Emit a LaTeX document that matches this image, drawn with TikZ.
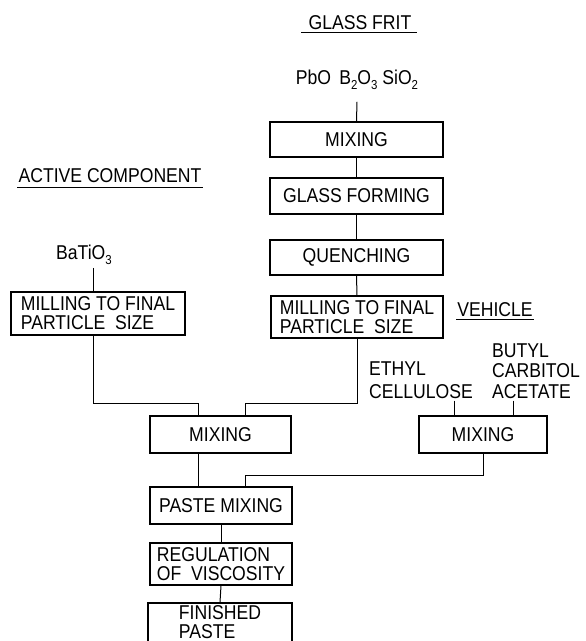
\documentclass[tikz,border=0pt]{standalone}
\usepackage{fontspec}
\setmainfont{Liberation Sans}[FakeStretch=0.88]
\usetikzlibrary{calc}
\newcommand\lbl{\fontsize{20}{19}\selectfont}
\newcommand\sbs[1]{\raisebox{-0.45ex}{\fontsize{13}{13}\selectfont #1}}
\begin{document}
\begin{tikzpicture}[x=1pt,y=-1pt,
  txt/.style={font=\lbl, inner sep=0pt, align=left},
  box/.style={draw, line width=1.5pt, inner sep=0pt, align=left, font=\lbl},
  link/.style={line width=1pt},
  uline/.style={line width=1pt}]
\useasboundingbox[fill=white] (0,0) rectangle (586,641);
\clip (0,0) rectangle (586,641);

% headings
\node[txt] (gf) at (360,22.5) {GLASS FRIT};
\draw[uline] ([shift={(-7,2.5)}]gf.south west) -- ([shift={(5,2.5)}]gf.south east);
\node[txt] (ac) at (110,176) {ACTIVE COMPONENT};
\draw[uline] ([shift={(-1,4)}]ac.south west) -- ([shift={(1,4)}]ac.south east);
\node[txt] (ve) at (495,309.5) {VEHICLE};
\draw[uline] ([shift={(-1,2.5)}]ve.south west) -- ([shift={(1,2.5)}]ve.south east);

% raw materials
\node[txt] (pbo) at (357,80) {PbO\, B\sbs{2}O\sbs{3} SiO\sbs{2}};
\node[txt] (bati) at (84,255) {BaTiO\sbs{3}};
\node[txt, font=\fontsize{20}{23}\selectfont, anchor=west] (ethyl) at (369,380) {ETHYL\\CELLULOSE};
\node[txt, font=\fontsize{20}{20.5}\selectfont, anchor=west] (butyl) at (492,371) {BUTYL\\CARBITOL\\ACETATE};

% glass frit column
\node[box, minimum width=173pt, minimum height=35pt] (mix1) at (356.5,139.5) {MIXING};
\node[box, minimum width=173pt, minimum height=36pt] (form) at (356.5,196) {GLASS FORMING};
\node[box, minimum width=173pt, minimum height=35pt] (quench) at (356.5,257.5) {QUENCHING};
\node[box, minimum width=172pt, minimum height=42pt] (mill2) at (357,317) {MILLING TO FINAL\\PARTICLE\ \ SIZE};

% active component
\node[box, minimum width=174pt, minimum height=43pt] (mill1) at (98,313.5) {MILLING TO FINAL\\PARTICLE\ \ SIZE};

% mixing
\node[box, minimum width=141pt, minimum height=37pt] (mixC) at (220.5,434.5) {MIXING};
\node[box, minimum width=128pt, minimum height=37pt] (mixR) at (483,434.5) {MIXING};
\node[box, minimum width=142pt, minimum height=37pt] (paste) at (221,505.5) {PASTE MIXING};
\node[box, minimum width=142pt, minimum height=42pt] (reg) at (221,564) {REGULATION\\OF\ \ VISCOSITY};
\node[box, minimum width=144pt, minimum height=46pt, text depth=7pt] (fin) at (220,626) {FINISHED\\PASTE};

% junction coordinates
\coordinate (cA) at (93,403);
\coordinate (cB) at (198,403);
\coordinate (cC) at (245,403);
\coordinate (cD) at (245,475);
\coordinate (cE) at (454,0);
\coordinate (cF) at (513,0);

% connectors
\draw[link] ([shift={(0,12)}]pbo.south) -- (mix1.north);
\draw[link] (mix1.south) -- (form.north);
\draw[link] (form.south) -- (quench.north);
\draw[link] (quench.south) -- (mill2.north);
\draw[link] ([shift={(0,3)}]cA |- bati.south) -- (cA |- mill1.north);
\draw[link] (cA |- mill1.south) -- (cA) -- (cB) -- (cB |- mixC.north);
\draw[link] (mill2.south) |- (cC) -- (cC |- mixC.north);
\draw[link] ([shift={(0,2)}]cE |- ethyl.south) -- (cE |- mixR.north);
\draw[link] ([shift={(0,2)}]cF |- butyl.south) -- (cF |- mixR.north);
\draw[link] (mixR.south) |- (cD) -- (cD |- paste.north);
\draw[link] (cB |- mixC.south) -- (cB |- paste.north);
\draw[link] (paste.south) -- (reg.north);
\draw[link] (reg.south) -- (fin.north);
\end{tikzpicture}
\end{document}
